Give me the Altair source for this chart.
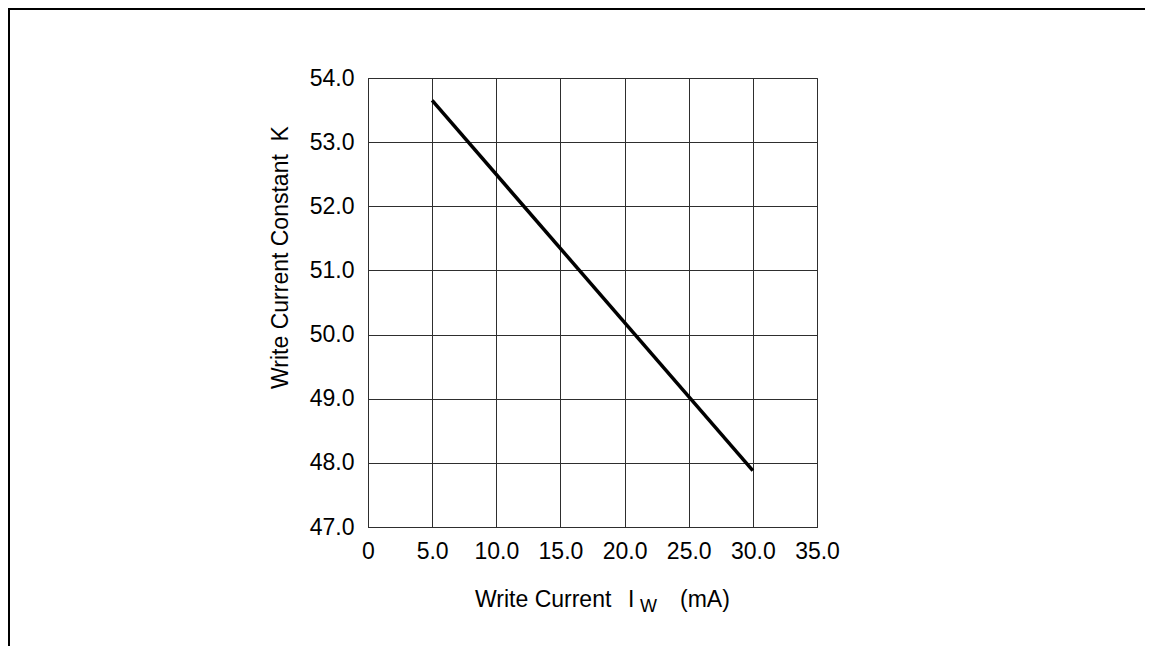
import altair as alt
import pandas as pd

# ---- data ----
current_ma = [5.0, 30.0]
constant_k = [53.65, 47.88]
x_ticks = [0, 5, 10, 15, 20, 25, 30, 35]
y_ticks = [47, 48, 49, 50, 51, 52, 53, 54]

df = pd.DataFrame({"I": current_ma, "K": constant_k})
one = pd.DataFrame({"a": [0]})

FONT = "Liberation Sans"
W, H = 449, 449
PL, PT = 360, 70
TOTAL_W, TOTAL_H = 1137, 638
PR = TOTAL_W - PL - W
PB = TOTAL_H - PT - H
GRID = "#2e2e2e"

x_scale = alt.Scale(domain=[0, 35], nice=False, zero=False)
y_scale = alt.Scale(domain=[47, 54], nice=False, zero=False)

line = alt.Chart(df).mark_line(color="black", strokeWidth=3.5).encode(
    x=alt.X("I:Q", scale=x_scale,
            axis=alt.Axis(values=x_ticks, title=None, grid=True, ticks=False,
                          labelExpr="datum.value == 0 ? '0' : format(datum.value, '.1f')",
                          labelPadding=13, labelFontSize=23, labelFont=FONT,
                          labelColor="black", gridColor=GRID, domainColor=GRID,
                          labelFlush=False)),
    y=alt.Y("K:Q", scale=y_scale,
            axis=alt.Axis(values=y_ticks, format=".1f", grid=True, ticks=False,
                          labelPadding=14, labelFontSize=23, labelFont=FONT,
                          labelColor="black", gridColor=GRID, domainColor=GRID,
                          title="Write Current Constant\u00a0\u00a0K",
                          titleFont=FONT, titleFontSize=23, titleFontWeight="normal",
                          titleColor="black", titleAngle=270, titleX=-81, titleY=179,
                          titleAlign="center", titleBaseline="alphabetic")),
)

def label(txt, x, y, size=23):
    return alt.Chart(one).mark_text(
        align="left", baseline="alphabetic", font=FONT, fontSize=size, color="black"
    ).encode(x=alt.value(x), y=alt.value(y), text=alt.value(txt))

xt1 = label("Write Current", 107, 528.7)
xt2 = label("I", 260, 528.7)
xt3 = label("W", 272, 533.7, size=18)
xt4 = label("(mA)", 312, 528.7)

frame_top = alt.Chart(one).mark_rule(color="black", strokeWidth=2).encode(
    x=alt.value(-PL), x2=alt.value(W + PR), y=alt.value(-PT + 1))
frame_left = alt.Chart(one).mark_rule(color="black", strokeWidth=2).encode(
    x=alt.value(-PL + 1), y=alt.value(-PT), y2=alt.value(H + PB))

chart = alt.layer(line, xt1, xt2, xt3, xt4, frame_top, frame_left).properties(
    width=W, height=H,
    padding={"left": PL, "top": PT, "right": PR, "bottom": PB},
    autosize=alt.AutoSizeParams(type="none"),
    background="white",
).configure_view(stroke=GRID, strokeWidth=1)

chart.save("out.html", embed_options={"renderer": "svg", "actions": False})
